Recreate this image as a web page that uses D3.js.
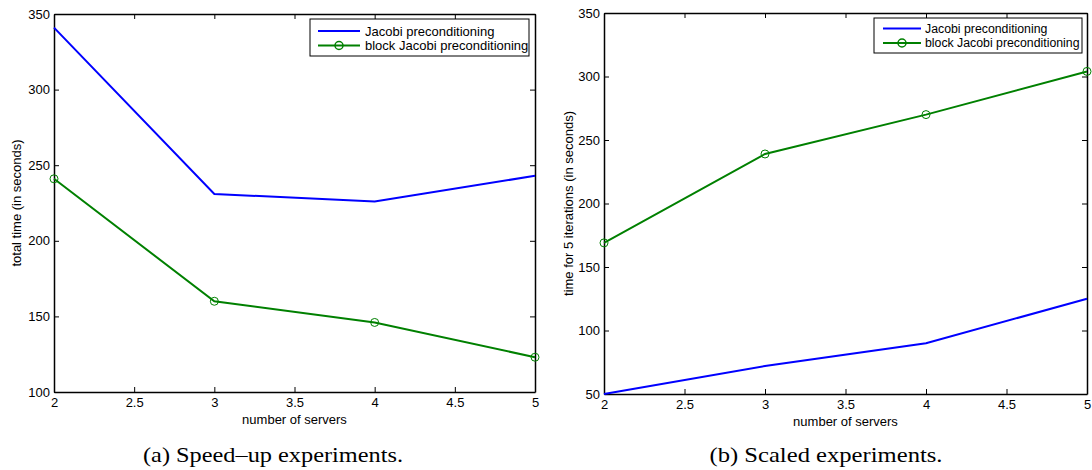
<!DOCTYPE html>
<html><head><meta charset="utf-8">
<script src="https://cdn.jsdelivr.net/npm/d3@7"></script>
<style>body{margin:0;background:#fff}svg{display:block}</style>
</head><body>
<svg id="c" width="1092" height="470"></svg>
<script>
const servers = [2, 3, 4, 5];
const xTicks = [2, 2.5, 3, 3.5, 4, 4.5, 5];
const speedJacobi = [341, 231, 226, 243];
const speedBlock = [241, 160, 146, 123];
const scaledJacobi = [50, 72, 90, 125];
const scaledBlock = [169, 239, 270, 304];
const speedYTicks = [100, 150, 200, 250, 300, 350];
const scaledYTicks = [50, 100, 150, 200, 250, 300, 350];
const seriesNames = ["Jacobi preconditioning", "block Jacobi preconditioning"];
const yLabels = ["total time (in seconds)", "time for 5 iterations (in seconds)"];
const xLabel = "number of servers";
const captions = ["(a)  Speed\u2013up experiments.", "(b)  Scaled experiments."];

const svg = d3.select("#c");
const font = "'Liberation Sans', Arial, sans-serif";
const fs = 13;

function panel(cfg) {
  const {x0, x1, y0, y1, yDom, yTicks, jac, blk, ylab, ylabX, cap, capX, capW, leg} = cfg;
  const x = d3.scaleLinear().domain([2, 5]).range([x0, x1]);
  const y = d3.scaleLinear().domain(yDom).range([y1, y0]);
  const g = svg.append("g");
  const tl = 5;
  const ax = g.append("g").attr("transform", `translate(0,${y1})`)
    .call(d3.axisBottom(x).tickValues(xTicks).tickSizeInner(-tl).tickSizeOuter(0).tickPadding(6).tickFormat(d3.format("")));
  const at = g.append("g").attr("transform", `translate(0,${y0})`)
    .call(d3.axisTop(x).tickValues(xTicks).tickSizeInner(-tl).tickSizeOuter(0).tickFormat(""));
  const ay = g.append("g").attr("transform", `translate(${x0},0)`)
    .call(d3.axisLeft(y).tickValues(yTicks).tickSizeInner(-tl).tickSizeOuter(0).tickPadding(4).tickFormat(d3.format("")));
  const ar = g.append("g").attr("transform", `translate(${x1},0)`)
    .call(d3.axisRight(y).tickValues(yTicks).tickSizeInner(-tl).tickSizeOuter(0).tickFormat(""));
  [ax, at, ay, ar].forEach(a => {
    a.select(".domain").attr("stroke", "#000").attr("stroke-width", 1.5);
    a.selectAll(".tick line").attr("stroke", "#000").attr("stroke-width", 1);
    a.selectAll("text").attr("font-family", font).attr("font-size", fs).attr("fill", "#000");
  });
  const line = d3.line().x((d, i) => x(servers[i])).y(d => y(d));
  g.append("path").datum(jac).attr("d", line).attr("fill", "none").attr("stroke", "#0000ff").attr("stroke-width", 2);
  g.append("path").datum(blk).attr("d", line).attr("fill", "none").attr("stroke", "#008000").attr("stroke-width", 2);
  g.selectAll(".mk").data(blk).enter().append("circle")
    .attr("cx", (d, i) => x(servers[i])).attr("cy", d => y(d)).attr("r", 4)
    .attr("fill", "none").attr("stroke", "#008000").attr("stroke-width", 1);
  g.append("text").attr("x", (x0 + x1) / 2).attr("y", y1 + 32).attr("text-anchor", "middle")
    .attr("font-family", font).attr("font-size", fs).text(xLabel);
  g.append("text").attr("transform", `translate(${ylabX},${(y0 + y1) / 2}) rotate(-90)`)
    .attr("text-anchor", "middle").attr("dy", "0.35em")
    .attr("font-family", font).attr("font-size", fs).text(ylab);
  g.append("text").attr("x", capX).attr("y", 462).attr("text-anchor", "middle")
    .attr("textLength", capW).attr("lengthAdjust", "spacingAndGlyphs")
    .attr("font-family", "'Liberation Serif', serif").attr("font-size", 21).text(cap);
  const lg = g.append("g");
  lg.append("rect").attr("x", leg.x).attr("y", leg.y).attr("width", leg.w).attr("height", leg.h)
    .attr("fill", "#fff").attr("stroke", "#000").attr("stroke-width", 1);
  const cols = ["#0000ff", "#008000"];
  seriesNames.forEach((n, i) => {
    const cy = leg.y + leg.r0 + i * 14.5;
    lg.append("line").attr("x1", leg.x + leg.l1).attr("x2", leg.x + leg.l2).attr("y1", cy).attr("y2", cy)
      .attr("stroke", cols[i]).attr("stroke-width", 2);
    if (i === 1) lg.append("circle").attr("cx", leg.x + (leg.l1 + leg.l2) / 2).attr("cy", cy).attr("r", 4)
      .attr("fill", "none").attr("stroke", cols[i]).attr("stroke-width", 1.5);
    lg.append("text").attr("x", leg.x + leg.tx).attr("y", cy).attr("dy", "0.35em")
      .attr("font-family", font).attr("font-size", leg.fs).text(n);
  });
}

panel({x0: 54, x1: 535, y0: 14, y1: 392, yDom: [100, 350], yTicks: speedYTicks,
  jac: speedJacobi, blk: speedBlock, ylab: yLabels[0], ylabX: 16,
  cap: captions[0], capX: 273, capW: 260,
  leg: {x: 310, y: 19, w: 219, h: 37, r0: 12, l1: 8, l2: 50, tx: 55, fs: 13}});
panel({x0: 604, x1: 1087, y0: 13, y1: 394, yDom: [50, 350], yTicks: scaledYTicks,
  jac: scaledJacobi, blk: scaledBlock, ylab: yLabels[1], ylabX: 568,
  cap: captions[1], capX: 826, capW: 233,
  leg: {x: 874, y: 18, w: 208, h: 35, r0: 10.5, l1: 9, l2: 47, tx: 51, fs: 12.3}});
</script>
</body></html>
